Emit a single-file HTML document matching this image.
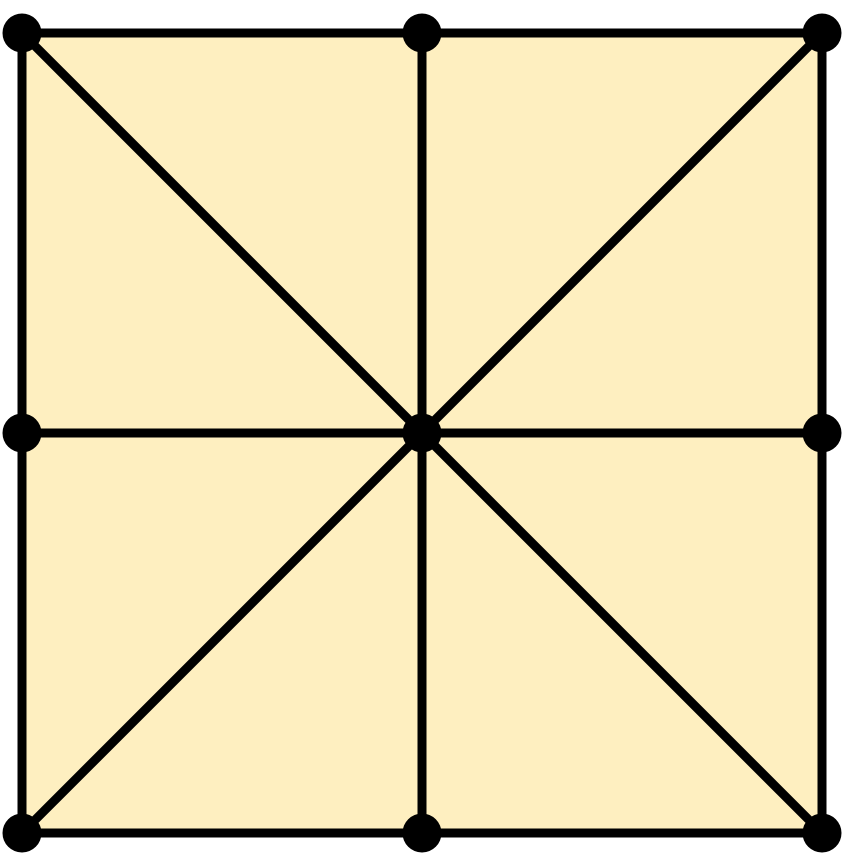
<!DOCTYPE html>
<html><head><meta charset="utf-8"><style>
html,body{margin:0;padding:0;background:#fff;}
svg{display:block;}
</style></head><body>
<svg id="chart" width="847" height="853" viewBox="0 0 847 853" xmlns="http://www.w3.org/2000/svg"></svg>
<script>
const xs = [0, 1, 2];
const ys = [0, 1, 2];
const edges = [
  [0,0,2,0],[0,2,2,2],[0,0,0,2],[2,0,2,2],
  [1,0,1,2],[0,1,2,1],[0,0,2,2],[2,0,0,2]
];
function sx(v){return 22 + v*400;}
function sy(v){return 33 + v*400;}
const NS = "http://www.w3.org/2000/svg";
const svg = document.getElementById('chart');
const sq = document.createElementNS(NS,'rect');
sq.setAttribute('x', sx(0)); sq.setAttribute('y', sy(0));
sq.setAttribute('width', sx(2)-sx(0)); sq.setAttribute('height', sy(2)-sy(0));
sq.setAttribute('fill', '#FEEFC0');


svg.appendChild(sq);
edges.forEach(function(e, i){
  const l = document.createElementNS(NS,'line');
  l.setAttribute('x1', sx(e[0])); l.setAttribute('y1', sy(e[1]));
  l.setAttribute('x2', sx(e[2])); l.setAttribute('y2', sy(e[3]));
  l.setAttribute('stroke', '#000'); l.setAttribute('stroke-width', '9');
  
  
  svg.appendChild(l);
});
xs.forEach(function(x){
  ys.forEach(function(y){
    const c = document.createElementNS(NS,'circle');
    c.setAttribute('cx', sx(x)); c.setAttribute('cy', sy(y)); c.setAttribute('r', '19.5');
    c.setAttribute('fill', '#000');
    
    
    svg.appendChild(c);
  });
});
</script>
</body></html>
